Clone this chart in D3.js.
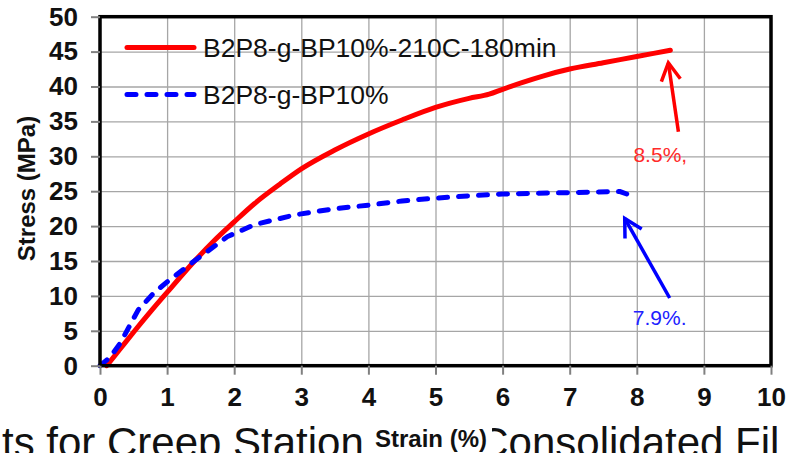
<!DOCTYPE html>
<html>
<head>
<meta charset="utf-8">
<script src="https://cdn.jsdelivr.net/npm/d3@7"></script>
<style>
	body { margin: 0; background: #fff; overflow: hidden; }
	svg { display: block; }
	text { font-family: "Liberation Sans", Arial, sans-serif; }
</style>
</head>
<body>
<div id="chart"></div>
<script>
// strain (%) vs stress (MPa)
var red_strain = [0.1, 0.3, 0.5, 0.75, 1, 1.42, 1.7, 2, 2.3, 2.68, 3, 3.5, 4, 4.5, 5, 5.5, 5.8, 6, 6.3, 6.6, 7, 7.5, 8, 8.5];
var red_stress = [0, 2.4, 4.8, 7.7, 10.5, 15.1, 17.9, 20.6, 23.2, 26.0, 28.2, 30.9, 33.2, 35.2, 37.0, 38.3, 38.9, 39.6, 40.6, 41.5, 42.5, 43.4, 44.3, 45.2];

var blue_strain = [0, 0.15, 0.3, 0.57, 0.8, 1, 1.42, 1.9, 2.3, 2.9, 3.5, 4, 4.5, 5, 5.6, 6, 7, 7.75, 7.85];
var blue_stress = [0, 1.2, 3.2, 8.0, 10.4, 12.0, 15.1, 18.5, 20.2, 21.6, 22.5, 23.0, 23.6, 24.0, 24.4, 24.6, 24.8, 24.95, 24.6];

var series_names = ["B2P8-g-BP10%-210C-180min", "B2P8-g-BP10%"];
var x_ticks = [0, 1, 2, 3, 4, 5, 6, 7, 8, 9, 10];
var y_ticks = [0, 5, 10, 15, 20, 25, 30, 35, 40, 45, 50];

// arrows: [tail x, tail y, tip x, tip y] in data units, plus the labels under them
var arrow_red = [8.62, 33.5, 8.47, 43.4];
var arrow_blue = [8.49, 9.7, 7.82, 21.1];
var label_red = {text: "8.5%,", x: 7.95, y: 29.2};
var label_blue = {text: "7.9%.", x: 7.94, y: 5.85};

var bottom_text = "ts for Creep Stations and Consolidated Fil";

var W = 788, H = 453;
var m = {top: 16.7, left: 100, right: 17, bottom: 87.3};
var w = W - m.left - m.right, h = H - m.top - m.bottom;

var svg = d3.select("#chart").append("svg")
	.attr("width", W).attr("height", H);

var x = d3.scaleLinear().domain([0, 10]).range([m.left, m.left + w]);
var y = d3.scaleLinear().domain([0, 50]).range([m.top + h, m.top]);

// big caption cut off at the bottom of the screenshot
svg.append("text")
	.attr("x", 2).attr("y", 457)
	.attr("font-size", 42)
	.attr("fill", "#111")
	.text(bottom_text);

// grid
svg.append("g")
	.attr("transform", "translate(0," + (m.top + h) + ")")
	.call(d3.axisBottom(x).tickValues(x_ticks).tickSize(-h).tickFormat(""))
	.call(function(g){ g.select(".domain").remove(); })
	.selectAll("line").attr("stroke", "#a6a6a6").attr("stroke-width", 1.3);

svg.append("g")
	.attr("transform", "translate(" + m.left + ",0)")
	.call(d3.axisLeft(y).tickValues(y_ticks).tickSize(-w).tickFormat(""))
	.call(function(g){ g.select(".domain").remove(); })
	.selectAll("line").attr("stroke", "#a6a6a6").attr("stroke-width", 1.3);

// curves
var line = d3.line()
	.x(function(d){ return x(d[0]); })
	.y(function(d){ return y(d[1]); })
	.curve(d3.curveMonotoneX);

var red_pts = d3.zip(red_strain, red_stress);
var blue_pts = d3.zip(blue_strain, blue_stress);

svg.append("path")
	.datum(red_pts)
	.attr("d", line)
	.attr("fill", "none")
	.attr("stroke", "#ff0000")
	.attr("stroke-width", 5)
	.attr("stroke-linecap", "round");

svg.append("path")
	.datum(blue_pts)
	.attr("d", line.curve(d3.curveLinear))
	.attr("fill", "none")
	.attr("stroke", "#0000ff")
	.attr("stroke-width", 5)
	.attr("stroke-dasharray", "9,11")
	.attr("stroke-linecap", "round");

// frame
svg.append("rect")
	.attr("x", m.left).attr("y", m.top)
	.attr("width", w).attr("height", h)
	.attr("fill", "none")
	.attr("stroke", "#000")
	.attr("stroke-width", 3.5);

// axes (ticks + labels)
var xa = svg.append("g")
	.attr("transform", "translate(0," + (m.top + h) + ")")
	.call(d3.axisBottom(x).tickValues(x_ticks).tickSize(9).tickPadding(13));
var ya = svg.append("g")
	.attr("transform", "translate(" + m.left + ",0)")
	.call(d3.axisLeft(y).tickValues(y_ticks).tickSize(9).tickPadding(13));

[xa, ya].forEach(function(g){
	g.select(".domain").remove();
	g.selectAll("line").attr("stroke", "#808080").attr("stroke-width", 2);
	g.selectAll("text")
		.attr("font-size", 26)
		.attr("font-weight", "bold")
		.attr("fill", "#111")
		.style("font-family", "'Liberation Sans', Arial, sans-serif");
});

// axis titles
svg.append("rect")
	.attr("x", 364).attr("y", 419).attr("width", 128).attr("height", 34)
	.attr("fill", "#fff");
svg.append("text")
	.attr("x", 431).attr("y", 447)
	.attr("text-anchor", "middle")
	.attr("font-size", 24)
	.attr("font-weight", "bold")
	.attr("fill", "#111")
	.text("Strain (%)");

svg.append("text")
	.attr("transform", "translate(35," + 188.5 + ") rotate(-90)")
	.attr("text-anchor", "middle")
	.attr("font-size", 24)
	.attr("font-weight", "bold")
	.attr("fill", "#111")
	.text("Stress (MPa)");

// legend
var legend = [
	{name: series_names[0], color: "#ff0000", dash: null, yy: 47.5},
	{name: series_names[1], color: "#0000ff", dash: "9,11", yy: 94.5}
];
var lg = svg.selectAll(".leg").data(legend).enter().append("g").attr("class", "leg");
lg.append("line")
	.attr("x1", 127).attr("x2", 194)
	.attr("y1", function(d){ return d.yy; })
	.attr("y2", function(d){ return d.yy; })
	.attr("stroke", function(d){ return d.color; })
	.attr("stroke-width", 5)
	.attr("stroke-linecap", "round")
	.attr("stroke-dasharray", function(d){ return d.dash; });
lg.append("text")
	.attr("x", 203)
	.attr("y", function(d){ return d.yy + 9.5; })
	.attr("font-size", 26.5)
	.attr("fill", "#111")
	.text(function(d){ return d.name; });

// arrows
function arrow(a, color) {
	var x1 = x(a[0]), y1 = y(a[1]), x2 = x(a[2]), y2 = y(a[3]);
	var ang = Math.atan2(y1 - y2, x1 - x2), len = 20, spread = 0.5;
	svg.append("line")
		.attr("x1", x1).attr("y1", y1).attr("x2", x2).attr("y2", y2)
		.attr("stroke", color).attr("stroke-width", 3.5);
	svg.append("path")
		.attr("d", "M" + (x2 + len * Math.cos(ang - spread)) + "," + (y2 + len * Math.sin(ang - spread)) +
			"L" + x2 + "," + y2 +
			"L" + (x2 + len * Math.cos(ang + spread)) + "," + (y2 + len * Math.sin(ang + spread)))
		.attr("fill", "none")
		.attr("stroke", color).attr("stroke-width", 3.5);
}
arrow(arrow_red, "#ff0000");
arrow(arrow_blue, "#0000ff");

svg.append("text")
	.attr("x", x(label_red.x)).attr("y", y(label_red.y))
	.attr("font-size", 21).attr("fill", "#ff2a2a")
	.text(label_red.text);
svg.append("text")
	.attr("x", x(label_blue.x)).attr("y", y(label_blue.y))
	.attr("font-size", 21).attr("fill", "#2020ff")
	.text(label_blue.text);
</script>
</body>
</html>
